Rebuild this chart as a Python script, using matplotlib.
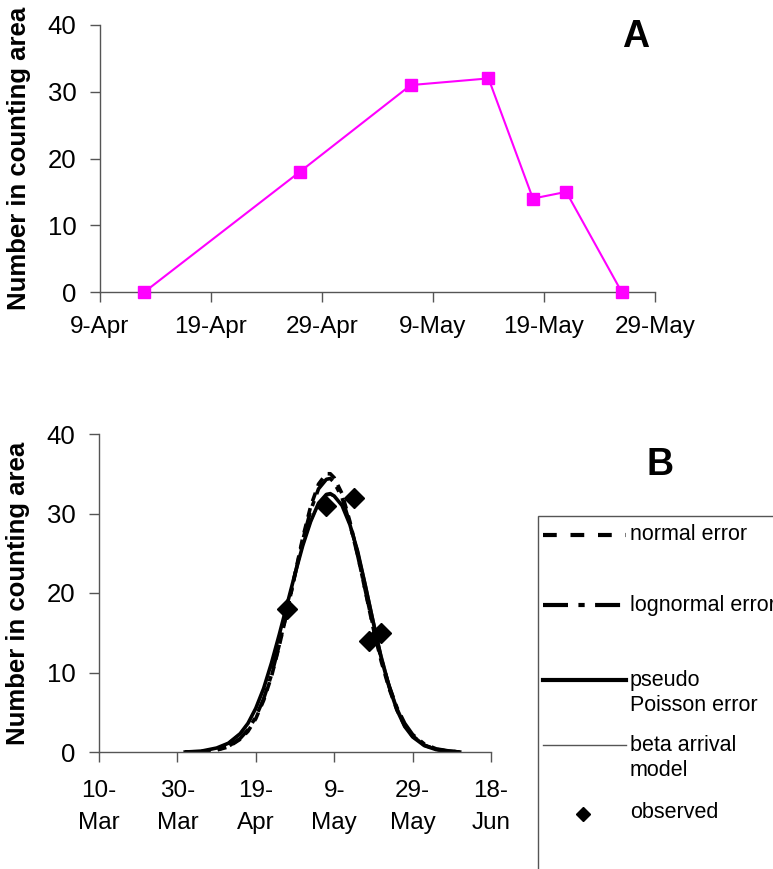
import datetime as dt

import matplotlib
matplotlib.use("Agg")
import matplotlib.pyplot as plt
import matplotlib.dates as mdates
from matplotlib.lines import Line2D
from matplotlib.patches import Rectangle
from matplotlib.ticker import FixedLocator, FuncFormatter

W, H = 773, 869

# panel A: counts in the counting area
count_dates = ["2001-04-13", "2001-04-27", "2001-05-07", "2001-05-14",
               "2001-05-18", "2001-05-21", "2001-05-26"]
count_values = [0, 18, 31, 32, 14, 15, 0]

# panel B: fitted curves (days after 10-Mar)
fit_start = "2001-03-10"
fit_days = [22, 26, 30, 33, 36, 38, 40, 42, 44, 46, 48, 50, 52, 54, 56, 58,
            59, 60, 62, 64, 66, 68, 70, 72, 74, 76, 78, 80, 83, 86, 89, 92]
normal_fit = [0.0, 0.05, 0.24, 0.64, 1.6, 2.6, 4.2, 6.5, 9.5, 13.4, 17.7, 22.4,
              27.0, 30.9, 33.7, 35.0, 35.0, 34.5, 32.5, 29.0, 24.8, 20.1, 15.5,
              11.4, 8.0, 5.3, 3.3, 2.0, 0.86, 0.33, 0.11, 0.0]
lognormal_fit = [0.0, 0.05, 0.28, 0.7, 1.7, 2.8, 4.4, 6.7, 9.7, 13.5, 17.8,
                 22.3, 26.7, 30.4, 33.1, 34.3, 34.4, 33.9, 32.0, 28.7, 24.7,
                 20.2, 15.7, 11.7, 8.3, 5.6, 3.6, 2.2, 1.0, 0.4, 0.15, 0.0]
poisson_fit = [0.0, 0.1, 0.5, 1.1, 2.3, 3.6, 5.5, 8.0, 11.2, 14.8, 18.6, 22.4,
               26.0, 29.0, 31.3, 32.4, 32.5, 32.2, 31.0, 28.6, 25.2, 20.8,
               16.2, 11.8, 8.2, 5.3, 3.2, 1.9, 0.8, 0.3, 0.1, 0.0]
beta_fit = [0.0, 0.1, 0.5, 1.2, 2.4, 3.7, 5.6, 8.1, 11.2, 14.7, 18.4, 22.2,
            25.8, 28.8, 31.1, 32.2, 32.3, 32.1, 31.0, 28.8, 25.6, 21.4, 16.9,
            12.5, 8.8, 5.8, 3.6, 2.2, 1.0, 0.4, 0.1, 0.0]

legend_labels = ["normal error", "lognormal error", "pseudo\nPoisson error",
                 "beta arrival\nmodel", "observed"]

AXIS_COLOR = "#555555"
YLABEL = "Number in counting area"


def to_num(s):
    return mdates.date2num(dt.datetime.strptime(s, "%Y-%m-%d"))


def fig_xy(x, y):
    return x / W, 1 - y / H


def day_label(sep):
    def fmt(v, pos):
        d = mdates.num2date(v)
        return f"{d.day}{sep}{d:%b}"
    return FuncFormatter(fmt)


def style_axes(ax):
    for side in ("top", "right"):
        ax.spines[side].set_visible(False)
    for side in ("left", "bottom"):
        ax.spines[side].set_color(AXIS_COLOR)
        ax.spines[side].set_linewidth(1.0)
    ax.tick_params(direction="out", length=7, width=1.0, color=AXIS_COLOR,
                   labelsize=17.5, pad=10)
    ax.tick_params(axis="y", labelsize=18.5)
    ax.set_ylim(0, 40)
    ax.set_yticks([0, 10, 20, 30, 40])
    ax.set_ylabel(YLABEL, fontsize=18.5, fontweight="bold", labelpad=12)


plt.rcParams["font.family"] = ["Liberation Sans", "DejaVu Sans"]
fig = plt.figure(figsize=(W / 100, H / 100), dpi=100)

# ---- panel A
l, b = fig_xy(100, 292)
r, t = fig_xy(655, 25)
ax_a = fig.add_axes([l, b, r - l, t - b])
xa = [to_num(s) for s in count_dates]
ax_a.plot(xa, count_values, color="#FF00FF", lw=1.5, marker="s",
          markersize=9, clip_on=False, zorder=3)
a0 = to_num("2001-04-09")
ax_a.set_xlim(a0, a0 + 50)
ax_a.xaxis.set_major_locator(FixedLocator([a0 + 10 * i for i in range(6)]))
ax_a.xaxis.set_major_formatter(day_label("-"))
style_axes(ax_a)
ax_a.text(0.965, 0.955, "A", transform=ax_a.transAxes, fontsize=27,
          fontweight="bold", ha="center", va="center")

# ---- panel B
l, b = fig_xy(99, 752)
r, t = fig_xy(491, 434)
ax_b = fig.add_axes([l, b, r - l, t - b])
b0 = to_num(fit_start)
xb = [b0 + d for d in fit_days]
ax_b.plot(xb, beta_fit, color="#333333", lw=1.0, zorder=2)
ax_b.plot(xb, poisson_fit, color="black", lw=2.6, zorder=2)
ax_b.plot(xb, lognormal_fit, color="black", lw=2.6, dashes=(7, 2, 1.5, 2),
          zorder=2)
ax_b.plot(xb, normal_fit, color="black", lw=2.6, dashes=(2.5, 2), zorder=2)
obs = [(to_num(s), v) for s, v in zip(count_dates, count_values) if v > 0]
ax_b.plot([o[0] for o in obs], [o[1] for o in obs], ls="none", marker="D",
          color="black", markersize=10, zorder=4)
ax_b.set_xlim(b0, b0 + 100)
ax_b.xaxis.set_major_locator(FixedLocator([b0 + 20 * i for i in range(6)]))
ax_b.xaxis.set_major_formatter(day_label("-\n"))
style_axes(ax_b)
ax_b.tick_params(axis="x", pad=13)
for lab in ax_b.get_xticklabels():
    lab.set_linespacing(1.6)
fig.text(*fig_xy(660, 465), "B", fontsize=27, fontweight="bold",
         ha="center", va="center")

# ---- legend for panel B (box runs off the figure edge)
fig.add_artist(Rectangle(fig_xy(538, 900), (W + 40 - 538) / W, (900 - 516) / H,
                         transform=fig.transFigure, fill=False,
                         edgecolor=AXIS_COLOR, lw=1.0))
handles = [
    dict(color="black", lw=3.0, dashes=(3.3, 3.3)),
    dict(color="black", lw=3.0, dashes=(6, 2.5, 1.5, 2.5)),
    dict(color="black", lw=3.0),
    dict(color="#555555", lw=1.0),
]
line_y = [535, 605, 680, 745]
for y, kw in zip(line_y, handles):
    x0, yy = fig_xy(543, y)
    x1, _ = fig_xy(626, y)
    fig.add_artist(Line2D([x0, x1], [yy, yy], transform=fig.transFigure, **kw))
mx, my = fig_xy(583, 814)
fig.add_artist(Line2D([mx], [my], transform=fig.transFigure, ls="none",
                      marker="D", markersize=7, color="black"))
text_y = [535, 605, 680, 745, 812]
for y, lab in zip(text_y, legend_labels):
    tx, ty = fig_xy(630, y)
    fig.text(tx, ty + 0.012 if "\n" in lab else ty, lab, fontsize=15.5,
             va="top" if "\n" in lab else "center", ha="left",
             linespacing=1.25)

fig.savefig("out.png", dpi=100)
